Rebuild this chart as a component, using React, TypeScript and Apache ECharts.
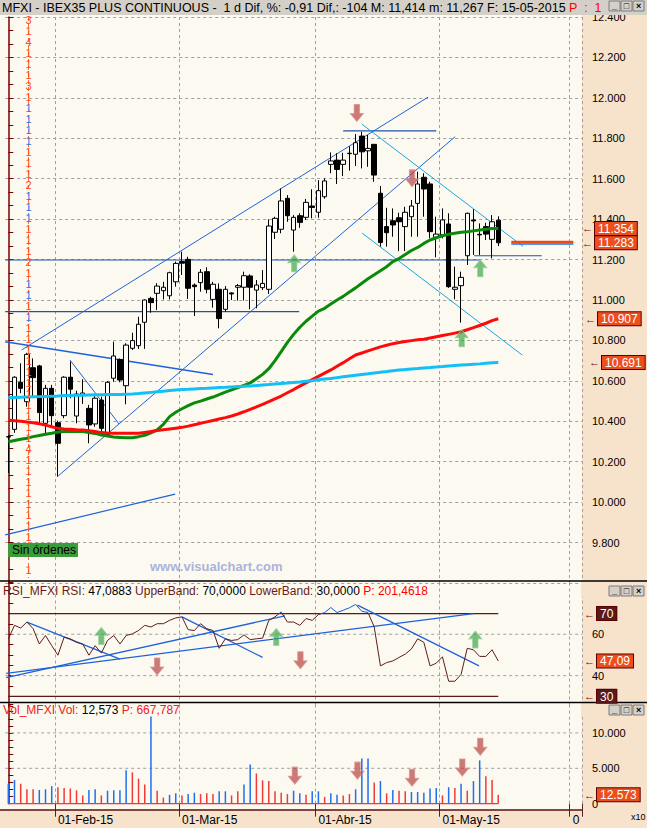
import React, { useEffect, useRef } from 'react';
import * as echarts from 'echarts';

const FONT = "'Liberation Sans', Arial, sans-serif";

// ---------- categories ----------
const dates = [
  '21-Jan-15','22-Jan-15','23-Jan-15','26-Jan-15','27-Jan-15','28-Jan-15','29-Jan-15','30-Jan-15',
  '02-Feb-15','03-Feb-15','04-Feb-15','05-Feb-15','06-Feb-15','09-Feb-15','10-Feb-15','11-Feb-15','12-Feb-15','13-Feb-15',
  '16-Feb-15','17-Feb-15','18-Feb-15','19-Feb-15','20-Feb-15','23-Feb-15','24-Feb-15','25-Feb-15','26-Feb-15','27-Feb-15',
  '02-Mar-15','03-Mar-15','04-Mar-15','05-Mar-15','06-Mar-15','09-Mar-15','10-Mar-15','11-Mar-15','12-Mar-15','13-Mar-15',
  '16-Mar-15','17-Mar-15','18-Mar-15','19-Mar-15','20-Mar-15','23-Mar-15','24-Mar-15','25-Mar-15','26-Mar-15','27-Mar-15',
  '30-Mar-15','31-Mar-15',
  '01-Apr-15','02-Apr-15','07-Apr-15','08-Apr-15','09-Apr-15','10-Apr-15','13-Apr-15','14-Apr-15','15-Apr-15','16-Apr-15',
  '17-Apr-15','20-Apr-15','21-Apr-15','22-Apr-15','23-Apr-15','24-Apr-15','27-Apr-15','28-Apr-15','29-Apr-15','30-Apr-15',
  '04-May-15','05-May-15','06-May-15','07-May-15','08-May-15','11-May-15','12-May-15','13-May-15','14-May-15','15-May-15',
];
const futureSlots = ['+1','+2','+3','+4','+5','+6','+7','+8','+9','+10','+11','+12','+13'];
const monthStarts = ['02-Feb-15', '02-Mar-15', '01-Apr-15', '04-May-15'];
const monthLabels = ['01-Feb-15', '01-Mar-15', '01-Abr-15', '01-May-15'];
const futureLabelSlot = '+12';
const futureLabel = '0';

// ---------- prices ----------
const open = [10322,10360,10593,10497,10665,10674,10390,10563,10393,10428,10618,10426,10528,10464,10387,10505,10334,10613,10706,10576,
  10761,10774,10890,11008,11033,11046,11021,11090,11190,11201,11074,11086,11140,11003,11053,10954,11035,11063,11063,11119,
  11049,11061,11053,11335,11350,11503,11346,11417,11409,11465,11434,11511,11671,11692,11671,11724,11721,11811,11738,11770,
  11528,11363,11392,11407,11363,11412,11478,11607,11574,11310,11322,11376,11053,11071,11219,11396,11325,11363,11300,11395];
const high = [10332,10623,10687,10739,10711,10679,10580,10580,10403,10623,10695,10551,10608,10481,10525,10522,10599,10794,10711,10786,
  10838,10917,11003,11016,11083,11090,11140,11190,11239,11214,11082,11153,11162,11090,11082,11069,11038,11079,11140,11127,
  11099,11148,11399,11412,11552,11519,11420,11429,11500,11548,11593,11602,11730,11726,11728,11760,11821,11832,11816,11772,
  11564,11456,11453,11432,11461,11495,11635,11627,11585,11412,11453,11429,11165,11140,11432,11449,11379,11382,11420,11414];
const low = [10144,10343,10539,10472,10522,10382,10341,10373,10126,10415,10514,10390,10486,10291,10373,10349,10332,10596,10593,10484,
  10753,10758,10758,10937,10951,11003,11003,11066,11124,11005,10921,11041,11033,10962,10860,10942,11000,10997,10997,10954,
  10959,11049,11030,11302,11330,11387,11239,11357,11396,11404,11407,11501,11627,11574,11613,11640,11663,11651,11659,11585,
  11264,11264,11313,11242,11242,11313,11313,11412,11305,11211,11305,11060,11003,10888,11173,11223,11223,11297,11206,11267];
const close = [10324,10618,10563,10731,10616,10443,10563,10428,10291,10618,10559,10535,10540,10382,10514,10365,10593,10723,10604,10777,
  10799,10880,11000,10987,11069,11063,11135,11181,11182,11058,11066,11137,11053,11078,10908,11053,11030,11071,11120,11063,
  11074,11082,11366,11404,11490,11417,11409,11384,11483,11458,11541,11589,11688,11646,11692,11726,11778,11733,11750,11618,
  11284,11333,11371,11387,11434,11465,11574,11549,11338,11326,11396,11066,11063,11112,11429,11391,11322,11326,11387,11283];

const maGreen = [10299,10305,10311,10316,10324,10330,10336,10341,10347,10349,10350,10350,10349,10345,10340,10332,10327,10322,10320,10318,
  10319,10324,10331,10343,10357,10385,10423,10445,10462,10477,10491,10500,10510,10520,10532,10544,10555,10567,10578,10590,
  10610,10632,10660,10700,10745,10790,10830,10865,10895,10920,10945,10959,10980,11000,11018,11040,11060,11083,11105,11125,
  11145,11165,11190,11205,11225,11245,11260,11280,11297,11308,11318,11325,11330,11335,11338,11342,11346,11350,11354,11354];
const maRed = [10406,10403,10400,10396,10393,10388,10381,10373,10365,10362,10360,10358,10357,10353,10349,10344,10342,10341,10341,10341,
  10341,10341,10345,10349,10354,10358,10362,10366,10370,10376,10383,10390,10397,10404,10411,10418,10426,10436,10447,10459,
  10471,10484,10497,10511,10525,10541,10557,10574,10590,10606,10622,10638,10654,10672,10690,10709,10728,10738,10748,10758,
  10768,10776,10784,10790,10795,10799,10803,10806,10812,10818,10824,10830,10836,10843,10853,10863,10874,10885,10898,10907];
const maCyan = [10517,10518,10519,10520,10521,10522,10523,10524,10525,10527,10528,10529,10529,10530,10531,10531,10532,10533,10533,10534,
  10535,10537,10540,10543,10546,10549,10552,10555,10557,10558,10560,10562,10563,10565,10567,10568,10570,10572,10573,10575,
  10577,10580,10582,10585,10587,10589,10592,10594,10598,10601,10605,10609,10612,10616,10620,10624,10628,10632,10635,10639,
  10643,10646,10650,10654,10656,10659,10661,10664,10666,10669,10671,10674,10676,10678,10680,10682,10684,10687,10689,10691];

const rsi = [57.8,64.3,63,65.9,62.7,55.3,59.4,54.5,49.9,58.6,57.8,56.1,55.3,49.9,54.5,50.9,57,59.4,55.3,59.4,
  60.2,61.8,64.3,63.5,65.1,65.1,66.7,67.9,68.4,62.2,61.8,65.1,62.7,61.8,53.2,57.8,57,57.4,59.7,57.4,
  57.8,58.1,66.7,68.4,70.8,65.9,65.9,64.3,67.6,66.7,69.5,70.5,72.9,70.5,71.6,72.8,74.4,71.1,70.5,63.5,
  44.7,46.3,47.1,48.8,50.4,52.9,57.8,56.1,44.7,46,49.1,37.3,37.3,40.6,53.2,52.5,49.3,49.3,52.5,47.09];
const rsiUpper = 70;
const rsiLower = 30;
const rsiLabelValues = [40, 60];
const rsiGridValues = [40, 60];

const volume = [2820,3350,2820,2040,2040,1940,2040,2480,2330,2230,2140,1890,1170,1940,2040,1170,1840,1890,1900,4710,
  4420,3540,2720,12330,1840,870,1260,1460,1170,1360,1550,1360,1460,1360,1750,1750,1170,1750,2720,5530,
  4270,3300,3200,1750,1550,1360,1840,1460,1260,1750,1750,970,1460,1260,1170,1360,2040,6400,6400,3010,
  3200,1460,1940,1840,1750,1650,1650,1550,2140,2230,1170,2330,2230,2820,1840,3200,6120,3880,3350,1257];
const volDir = 'BBRRRBBBRRRRRBBRBBBBRRRBRRBBRBBRRRBBRRBBRRRRRRBBRBBRBBRRBBBRBRBRRBBBBBRBRBRBBRRR'.split('');
const volLabelValues = [0, 5000, 10000];
const volGridValues = [5000, 10000];

// ---------- drawings (index, price) ----------
const lineBottomLeft = [[-0.5, 9838], [26.9, 10040]];
const level11200 = [[-0.5, 11198], [76.1, 11198]];
const level11219 = [[75.1, 11219], [86.0, 11219]];
const level10942 = [[-0.5, 10942], [46.9, 10942]];
const level11837 = [[54, 11837], [69, 11837]];
const channelUpper = [[2.16, 10753], [67.7, 12004]];
const channelLower = [[8.06, 10130], [72.05, 11808]];
const fallUpper = [[57.0, 11870], [83.0, 11265]];
const fallLower = [[57.05, 11331], [82.85, 10728]];
const earlyDesc = [[-0.5, 10794], [33.0, 10632]];
const triangleDesc = [[9.95, 10703], [17.85, 10387]];
const priceNowRed = [[81.1, 11287], [91.1, 11287]];
const priceNowBlue = [[81.1, 11277], [91.1, 11277]];

const mainUpArrows = [[46.1, 11182], [76.1, 11157], [73.1, 10811]];
const mainDownArrows = [[56.2, 11925], [65.1, 11602]];
const waveLabels = [
  { name: 'H', value: [43.5, 11687] },
  { name: 'H', value: [63.8, 11554] },
  { name: 'C', value: [58.5, 11989] },
];

const rsiLineA = [[-0.34, 41.1], [75, 70]];
const rsiLineB = [[-0.34, 39], [44.6, 68.9]];
const rsiLineC = [[3.0, 65.9], [18.0, 48.0]];
const rsiLineD = [[28.0, 68.4], [41.0, 48.8]];
const rsiLineE = [[56.3, 74.1], [75.9, 44.7]];
const rsiUpArrows = [[15, 59.2], [43.2, 58.7], [75.3, 57.5]];
const rsiDownArrows = [[24, 44.4], [47.1, 47.4]];

const volDownArrows = [[46.2, 3957], [56.3, 4671], [65.1, 3671], [73.2, 5100], [76.1, 8029]];

// left price-profile column (one entry per price row; '' = hidden under the order box)
const profile = ['r3','r1','r4','r1','r1','r1','r3','r1','b1','b1','b1','b1','r1','r1','r1','r2','b1','b1','b1','r1',
  'r1','r1','r2','r1','b1','b1','r1','b1','r1','r1','r1','r1','r1','r1','r1','r1','r1','r1','r1','r4',
  'r1','r1','r1','r1','r1','r1','r1','r1','','','r1'];

// ---------- helpers ----------
const categories = [...dates, ...futureSlots];
const isTick = (v: string) => monthStarts.includes(v) || v === futureLabelSlot;
const fmtK = (v: number) => (v === 0 ? '0' : (v / 1000).toFixed(3));
const AXIS_RED = '#7a0000';
const GRID_COLOR = '#a0a0a0';
const BLUE = '#1f62d8';
const CYAN = '#19a6df';
const PEACH = '#f7e2cc';
const CREAM = '#fcfaf0';
const TAG_BG = '#ec4e1c';
const UP_SYM = 'path://M6,0 L12,7 L8.5,7 L8.5,15 L3.5,15 L3.5,7 L0,7 Z';
const DOWN_SYM = 'path://M3.5,0 L8.5,0 L8.5,8 L12,8 L6,15 L0,8 L3.5,8 Z';

const GRID_LEFT = 5.2;
const GRID_W = 576.8;
const RSI_TOP = 582.5;
const RSI_H = 124.2;
const RSI_MIN = 25;
const RSI_MAX = 85;

const seg = (data: number[][], xAxisIndex: number, yAxisIndex: number, color: any, width: number, type: any = 'solid', z = 3) => ({
  type: 'line', xAxisIndex, yAxisIndex, data, symbol: 'none', silent: true, z, lineStyle: { color, width, type },
});
const arrows = (data: number[][], xAxisIndex: number, yAxisIndex: number, up: boolean) => ({
  type: 'scatter', xAxisIndex, yAxisIndex, data,
  symbol: up ? UP_SYM : DOWN_SYM, symbolSize: [13, 17], silent: true, z: 6,
  itemStyle: {
    color: up ? 'rgba(58,160,70,0.85)' : 'rgba(180,60,60,0.85)',
    borderColor: up ? 'rgba(150,210,150,0.9)' : 'rgba(220,140,140,0.9)',
    borderWidth: 1,
  },
});
const hGrid = (value: number, xAxisIndex: number, yAxisIndex: number) =>
  seg([[-0.5, value], [92.5, value]], xAxisIndex, yAxisIndex, GRID_COLOR, 1, [3, 3], 1);

const buttons = (y: number) =>
  ['_', '□', '×'].flatMap((g, k) => [
    { type: 'rect', z: 102, silent: true, shape: { x: 609 + k * 12, y, width: 11, height: 10 }, style: { fill: '#d4d0c8', stroke: '#7a7a7a', lineWidth: 1 } },
    { type: 'text', z: 103, silent: true, x: 614.5 + k * 12, y: y + 5, style: { text: g, fill: '#000', font: `bold 9px ${FONT}`, align: 'center', verticalAlign: 'middle' } },
  ]);

function buildOption() {
  const tickInterval = (_i: number, v: string) => isTick(v);
  const catAxis = (gridIndex: number, withLabels: boolean) => ({
    type: 'category',
    gridIndex,
    data: categories,
    boundaryGap: true,
    axisLine: { show: false },
    axisTick: withLabels ? { show: true, interval: tickInterval, length: 13, lineStyle: { color: '#5a2020' } } : { show: false },
    axisLabel: withLabels
      ? {
          show: true,
          interval: tickInterval,
          formatter: (v: string) => (v === futureLabelSlot ? futureLabel : monthLabels[monthStarts.indexOf(v)] || ''),
          align: 'left',
          margin: 10,
          color: '#000',
          fontSize: 12,
          fontFamily: FONT,
        }
      : { show: false },
    splitLine: { show: true, interval: tickInterval, lineStyle: { color: GRID_COLOR, type: [3, 3], width: 1 } },
  });
  const valXAxis = (gridIndex: number) => ({ type: 'value', gridIndex, min: -0.5, max: 92.5, show: false });

  const axisLineStyle = { show: true, lineStyle: { color: AXIS_RED, width: 1.5 } };
  const axisTickStyle = { show: true, length: 5, lineStyle: { color: AXIS_RED } };
  const labelStyle = { color: '#000', fontSize: 11, fontFamily: FONT, margin: 10 };

  const series: any[] = [];
  series.push({
    type: 'candlestick', xAxisIndex: 0, yAxisIndex: 0,
    data: open.map((o, i) => [o, close[i], low[i], high[i]]),
    barWidth: 5, z: 3,
    itemStyle: { color: '#ffffff', color0: '#000000', borderColor: '#000000', borderColor0: '#000000', borderWidth: 1 },
  });
  const maLine = (data: number[], color: string) => ({
    type: 'line', xAxisIndex: 0, yAxisIndex: 0, data, symbol: 'none', z: 4, silent: true,
    lineStyle: { color, width: 3 },
  });
  series.push(maLine(maGreen, '#0a8a0a'));
  series.push(maLine(maRed, '#ff0a0a'));
  series.push(maLine(maCyan, '#12c0f5'));

  series.push(seg(lineBottomLeft, 3, 0, BLUE, 1.2));
  series.push(seg(level11200, 3, 0, '#2050a8', 1.2));
  series.push(seg(level11219, 3, 0, '#2050a8', 1.2));
  series.push(seg(level10942, 3, 0, '#2050a8', 1.2));
  series.push(seg(level11837, 3, 0, '#2050a8', 1.2));
  series.push(seg(channelUpper, 3, 0, BLUE, 1));
  series.push(seg(channelLower, 3, 0, BLUE, 1));
  series.push(seg(fallUpper, 3, 0, CYAN, 1));
  series.push(seg(fallLower, 3, 0, CYAN, 1));
  series.push(seg(earlyDesc, 3, 0, BLUE, 1.5));
  series.push(seg(triangleDesc, 3, 0, BLUE, 1));
  series.push(seg(priceNowBlue, 3, 0, '#1f6ff0', 1.5));
  series.push(seg(priceNowRed, 3, 0, '#f04a10', 2.5));
  series.push(arrows(mainUpArrows, 3, 0, true));
  series.push(arrows(mainDownArrows, 3, 0, false));
  series.push({
    type: 'scatter', xAxisIndex: 3, yAxisIndex: 0, data: waveLabels,
    symbolSize: 1, itemStyle: { opacity: 0 }, silent: true, z: 6,
    label: { show: true, position: 'inside', formatter: '{b}', color: '#ff7a00', fontSize: 11, fontFamily: FONT },
  });

  // RSI panel: values above the upper band in blue (vertical gradient in pixel space)
  const f70 = (RSI_MAX - rsiUpper) / (RSI_MAX - RSI_MIN);
  const rsiColor = new echarts.graphic.LinearGradient(0, RSI_TOP, 0, RSI_TOP + RSI_H, [
    { offset: 0, color: '#1a5ad8' },
    { offset: f70, color: '#1a5ad8' },
    { offset: f70, color: '#5c1c1c' },
    { offset: 1, color: '#5c1c1c' },
  ], true);
  rsiGridValues.forEach((v) => series.push(hGrid(v, 4, 1)));
  series.push({
    type: 'line', xAxisIndex: 1, yAxisIndex: 1, data: rsi, symbol: 'none', z: 4, silent: true,
    lineStyle: { width: 1, color: rsiColor },
  });
  series.push(seg([[0, rsiUpper], [79, rsiUpper]], 4, 1, '#5a1a1a', 1.2));
  series.push(seg([[0, rsiLower], [79, rsiLower]], 4, 1, '#5a1a1a', 1.2));
  series.push(seg(rsiLineA, 4, 1, BLUE, 1.3));
  series.push(seg(rsiLineB, 4, 1, BLUE, 1.3));
  series.push(seg(rsiLineC, 4, 1, BLUE, 1.3));
  series.push(seg(rsiLineD, 4, 1, BLUE, 1.3));
  series.push(seg(rsiLineE, 4, 1, BLUE, 1.3));
  series.push(arrows(rsiUpArrows, 4, 1, true));
  series.push(arrows(rsiDownArrows, 4, 1, false));

  // Volume panel
  volGridValues.forEach((v) => series.push(hGrid(v, 5, 2)));
  series.push({
    type: 'bar', xAxisIndex: 2, yAxisIndex: 2, barWidth: 1.5, z: 3, silent: true,
    data: volume.map((v, i) => ({ value: v, itemStyle: { color: volDir[i] === 'B' ? '#1f6ff0' : '#f03a3a' } })),
  });
  series.push(seg([[0, 0], [79, 0]], 5, 2, '#f03a3a', 1.5));
  series.push(arrows(volDownArrows, 5, 2, false));

  const profileText = profile.map((p) => (p ? `{${p[0]}|${p.slice(1)}}` : ' ')).join('\n');

  const graphic: any[] = [
    { type: 'rect', z: -1, silent: true, shape: { x: 582, y: 15, width: 65, height: 795 }, style: { fill: PEACH } },
    { type: 'rect', z: -1, silent: true, shape: { x: 0, y: 810, width: 647, height: 18 }, style: { fill: PEACH } },
    { type: 'line', z: 5, silent: true, shape: { x1: 28.5, y1: 17, x2: 28.5, y2: 578 }, style: { stroke: '#ff6a3a', lineWidth: 1, lineDash: [4, 3] } },
    {
      type: 'text', z: 6, silent: true, x: 28.5, y: 14.5,
      style: {
        text: profileText, align: 'center', verticalAlign: 'top', lineHeight: 11, font: `11px ${FONT}`,
        rich: {
          r: { fill: '#ff4a1a', fontSize: 11, lineHeight: 11, fontFamily: FONT },
          b: { fill: '#1a7ae8', fontSize: 11, lineHeight: 11, fontFamily: FONT },
        },
      },
    },
    { type: 'rect', z: 20, silent: true, shape: { x: 8, y: 543, width: 70, height: 14 }, style: { fill: '#3a9c3a' } },
    { type: 'text', z: 21, silent: true, x: 12, y: 550, style: { text: 'Sin órdenes', fill: '#000', font: `12px ${FONT}`, verticalAlign: 'middle' } },
    { type: 'text', z: 21, silent: true, x: 150, y: 566, style: { text: 'www.visualchart.com', fill: '#aab3dc', font: `bold 13px ${FONT}`, verticalAlign: 'middle' } },
    { type: 'rect', z: 100, silent: true, shape: { x: 0, y: 0, width: 647, height: 15 }, style: { fill: '#d4d0c8' } },
    {
      type: 'text', z: 101, silent: true, x: 2, y: 7.5,
      style: {
        text: '{k|MFXI - IBEX35 PLUS CONTINUOUS -  1 d Dif, %: -0,91 Dif,: -104 M: 11,414 m: 11,267 F: 15-05-2015 }{r|P  :  1}',
        verticalAlign: 'middle', font: `12.5px ${FONT}`, lineHeight: 13,
        rich: {
          k: { fill: '#000', fontSize: 12.5, lineHeight: 13, fontFamily: FONT },
          r: { fill: '#ff0000', fontSize: 12.5, lineHeight: 13, fontFamily: FONT },
        },
      },
    },
    ...buttons(1),
    { type: 'rect', z: 100, silent: true, shape: { x: 581, y: 581, width: 66, height: 16 }, style: { fill: PEACH } },
    { type: 'line', z: 101, silent: true, shape: { x1: 0, y1: 581, x2: 647, y2: 581 }, style: { stroke: '#000', lineWidth: 1.5 } },
    {
      type: 'text', z: 101, silent: true, x: 3, y: 591,
      style: {
        text: '{m|RSI_MFXI RSI:} {v|47,0883} {m|UpperBand:} {v|70,0000} {m|LowerBand:} {v|30,0000} {r|P: 201,4618}',
        verticalAlign: 'middle', font: `12px ${FONT}`,
        rich: {
          m: { fill: '#6a1a1a', fontSize: 12, fontFamily: FONT },
          v: { fill: '#000', fontSize: 12, fontFamily: FONT },
          r: { fill: '#ff0000', fontSize: 12, fontFamily: FONT },
        },
      },
    },
    ...buttons(586),
    { type: 'rect', z: 100, silent: true, shape: { x: 581, y: 703, width: 66, height: 14 }, style: { fill: PEACH } },
    { type: 'line', z: 101, silent: true, shape: { x1: 0, y1: 702.5, x2: 647, y2: 702.5 }, style: { stroke: '#000', lineWidth: 1.5 } },
    {
      type: 'text', z: 101, silent: true, x: 3, y: 710,
      style: {
        text: '{r|Vol_MFXI Vol:} {v|12,573} {r|P: 667,787}',
        verticalAlign: 'middle', font: `12px ${FONT}`,
        rich: { v: { fill: '#000', fontSize: 12, fontFamily: FONT }, r: { fill: '#f02020', fontSize: 12, fontFamily: FONT } },
      },
    },
    ...buttons(705),
    { type: 'line', z: 101, silent: true, shape: { x1: 0, y1: 810, x2: 582, y2: 810 }, style: { stroke: '#5a1010', lineWidth: 1.5 } },
    { type: 'text', z: 101, silent: true, x: 631, y: 812, style: { text: 'x10', fill: '#000', font: `9px ${FONT}`, verticalAlign: 'top' } },
  ];

  return {
    animation: false,
    backgroundColor: CREAM,
    grid: [
      { left: GRID_LEFT, width: GRID_W, top: 17, height: 566 },
      { left: GRID_LEFT, width: GRID_W, top: RSI_TOP, height: RSI_H },
      { left: GRID_LEFT, width: GRID_W, top: 704.6, height: 99.1 },
    ],
    xAxis: [catAxis(0, false), catAxis(1, false), catAxis(2, true), valXAxis(0), valXAxis(1), valXAxis(2)],
    yAxis: [
      {
        type: 'value', gridIndex: 0, position: 'right', min: 9600, max: 12400, interval: 200,
        axisLine: axisLineStyle, axisTick: axisTickStyle,
        minorTick: { show: true, splitNumber: 3, length: 5, lineStyle: { color: AXIS_RED } },
        axisLabel: { ...labelStyle, formatter: (v: number) => (v <= 9600 ? '' : fmtK(v)) },
        splitLine: { show: true, lineStyle: { color: GRID_COLOR, type: [3, 3], width: 1 } },
      },
      {
        type: 'value', gridIndex: 1, position: 'right', min: RSI_MIN, max: RSI_MAX, interval: 5,
        axisLine: axisLineStyle, axisTick: axisTickStyle,
        axisLabel: { ...labelStyle, formatter: (v: number) => (rsiLabelValues.includes(Math.round(v)) ? String(Math.round(v)) : '') },
        splitLine: { show: false },
      },
      {
        type: 'value', gridIndex: 2, position: 'right', min: 0, max: 14000, interval: 1000,
        axisLine: axisLineStyle, axisTick: axisTickStyle,
        axisLabel: { ...labelStyle, formatter: (v: number) => (volLabelValues.includes(v) ? fmtK(v) : '') },
        splitLine: { show: false },
      },
    ],
    graphic,
    series,
  };
}

// value tags on the right axes, positioned through the axes' own scales
function buildTags(chart: any) {
  const tagEl = (yAxisIndex: number, value: number, text: string, bg: string, boxX: number) => {
    const y = chart.convertToPixel({ yAxisIndex }, value);
    return {
      type: 'text', z: 110, silent: true, x: boxX - 9, y,
      style: {
        text: `{ar|←}{tg|${text}}`,
        verticalAlign: 'middle',
        rich: {
          ar: { fill: '#7a0000', fontSize: 11, lineHeight: 12, fontFamily: FONT, padding: [0, 2, 0, 0] },
          tg: { fill: '#ffffff', backgroundColor: bg, borderColor: '#5a0000', borderWidth: 1, fontSize: 12, lineHeight: 12, fontFamily: FONT, padding: [1, 3, 0, 3] },
        },
      },
    };
  };
  const last = (a: number[]) => a[a.length - 1];
  return [
    tagEl(0, last(maGreen), fmtK(last(maGreen)), TAG_BG, 591),
    tagEl(0, last(close), fmtK(last(close)), TAG_BG, 591),
    tagEl(0, last(maRed), fmtK(last(maRed)), TAG_BG, 594),
    tagEl(0, last(maCyan), fmtK(last(maCyan)), TAG_BG, 598),
    tagEl(1, rsiUpper, String(rsiUpper), '#5a1a1a', 593),
    tagEl(1, rsiLower, String(rsiLower), '#5a1a1a', 593),
    tagEl(1, last(rsi), last(rsi).toFixed(2).replace('.', ','), TAG_BG, 593),
    tagEl(2, last(volume), '12.573', TAG_BG, 593),
  ];
}

export default function App() {
  const ref = useRef<HTMLDivElement>(null);
  useEffect(() => {
    if (!ref.current) return;
    const chart = echarts.init(ref.current, null, { renderer: 'svg' });
    const option: any = buildOption();
    chart.setOption(option);
    chart.setOption({ graphic: [...option.graphic, ...buildTags(chart)] }, { replaceMerge: ['graphic'] } as any);
    return () => chart.dispose();
  }, []);
  return <div ref={ref} style={{ width: 647, height: 828, position: 'absolute', left: 0, top: 0 }} />;
}
